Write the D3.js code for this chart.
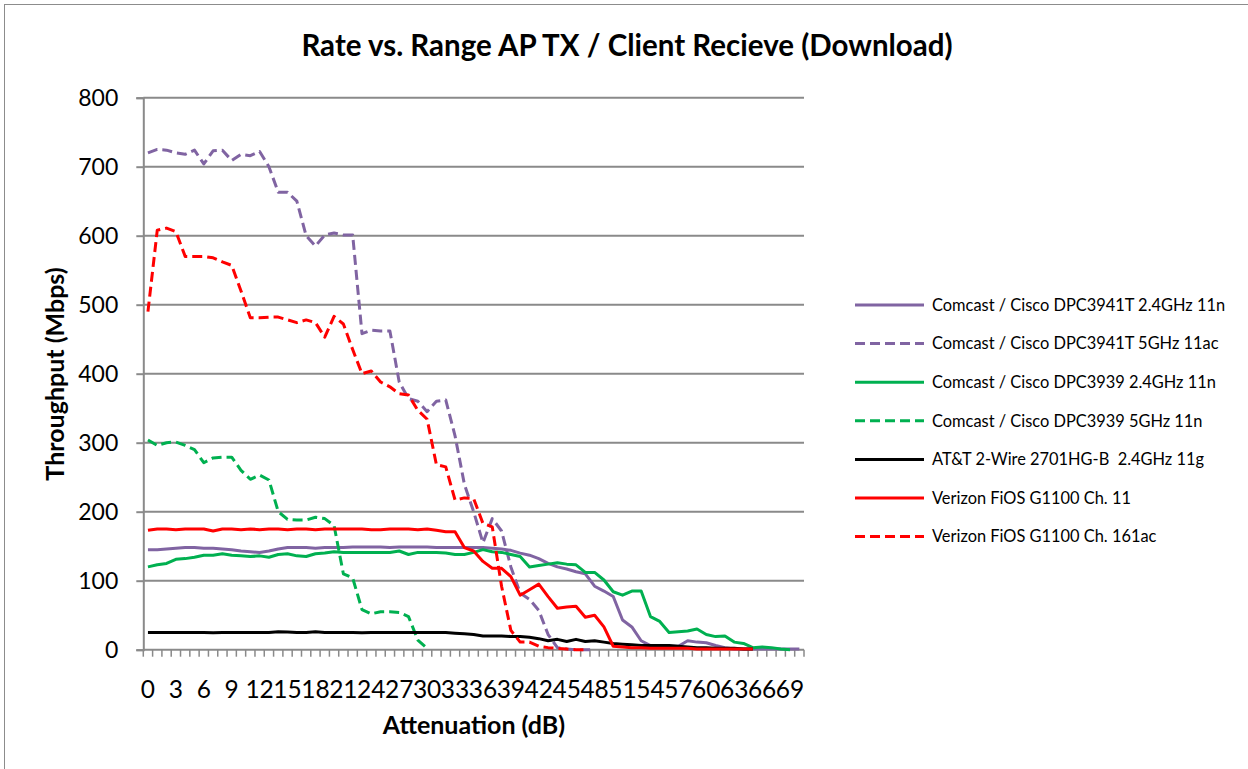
<!DOCTYPE html>
<html>
<head>
<meta charset="utf-8">
<script src="https://cdn.jsdelivr.net/npm/d3@7"></script>
<style>
  body { margin: 0; background: #fff; }
  svg { display: block; }
</style>
</head>
<body>
<svg id="chart" width="1248" height="769"></svg>
<script>
// categories: attenuation in dB, one step per point
const attenuation = d3.range(0, 71);
const xTickLabels = attenuation.filter(d => d % 3 === 0);
const yTickValues = [0, 100, 200, 300, 400, 500, 600, 700, 800];

const seriesNames = [
  "Comcast / Cisco DPC3941T 2.4GHz 11n",
  "Comcast / Cisco DPC3941T 5GHz 11ac",
  "Comcast / Cisco DPC3939 2.4GHz 11n",
  "Comcast / Cisco DPC3939 5GHz 11n",
  "AT&T 2-Wire 2701HG-B  2.4GHz 11g",
  "Verizon FiOS G1100 Ch. 11",
  "Verizon FiOS G1100 Ch. 161ac"
];

// throughput in Mbps
const dpc3941t24 = [145,145,146,147,148,148,147,147,146,145,143,142,141,143,146,148,148,148,147,148,
  148,148,149,149,149,149,148,149,149,149,149,148,148,148,148,148,148,147,146,144,
  140,137,132,125,120,117,113,110,92,85,77,43,33,13,6,5,5,5,13,11,
  10,6,3,1,1,1,1,1,1,1,1];
const dpc3941t5 = [720,725,724,720,718,724,704,723,724,709,718,716,722,700,663,663,650,600,585,601,
  604,601,601,458,463,462,462,388,364,360,345,360,362,310,240,200,155,190,172,120,
  82,73,57,22,3,1,0,0,0];
const dpc3939_24 = [120,123,125,131,132,134,137,137,139,137,136,135,136,134,138,139,136,135,139,140,
  142,141,141,141,141,141,141,143,138,141,141,141,140,138,138,141,145,142,141,138,
  135,120,122,124,126,124,123,112,112,101,84,79,85,85,48,41,25,26,27,30,
  22,19,20,11,9,3,4,3,1,0];
const dpc3939_5 = [304,296,300,301,296,290,271,278,279,279,260,247,253,246,200,189,188,188,192,190,
  180,110,104,58,52,55,55,54,48,14,2];
const att2701 = [25,25,25,25,25,25,25,24.5,25,25,25,25,25,25,26,25.5,25,25,26,25,
  25,25,25,24.5,25,25,25,25,25,25,25,25,25,24,23,22,20,20,20,19,
  19,18,16,13,15,12,15,12,13,11,9,8,7,6,6,6,6,5,4,3,
  3,2,2,2,1,1];
const fiosCh11 = [173,175,175,174,175,175,175,172,175,175,174,175,174,175,175,174,175,175,174,175,
  175,175,175,175,174,174,175,175,175,174,175,173,171,171,148,143,128,118,118,106,
  79,87,95,77,60,62,63,47,50,33,5,4,3,3,2,2,2,2,2,1,
  1,1,1,1,1,1];
const fiosCh161 = [490,608,611,606,570,570,570,568,562,557,520,481,481,482,482,478,474,478,474,453,
  483,472,435,400,404,388,381,371,369,347,334,268,265,217,220,219,183,178,92,28,
  11,11,5,3,2,1,0,0];

const seriesValues = [dpc3941t24, dpc3941t5, dpc3939_24, dpc3939_5, att2701, fiosCh11, fiosCh161];
const seriesColors = ["#8064A2", "#8064A2", "#00B050", "#00B050", "#000000", "#FF0000", "#FF0000"];
const seriesDashed = [false, true, false, true, false, false, true];

const font = "Lato, 'Open Sans', sans-serif";
const svg = d3.select("#chart");

// outer chart border (only top and left edge visible in the frame)
svg.append("rect")
  .attr("x", 4.5).attr("y", 4.5)
  .attr("width", 1300).attr("height", 800)
  .attr("fill", "none").attr("stroke", "#8c8c8c").attr("stroke-width", 1);

const plot = { left: 143.3, right: 804, top: 97.7, bottom: 649.7 };

const x = d3.scaleBand().domain(attenuation).range([plot.left, plot.right]).padding(0);
const xc = d => x(d) + x.bandwidth() / 2;
const y = d3.scaleLinear().domain([0, 800]).range([plot.bottom, plot.top]);

// horizontal grid lines
svg.append("g")
  .selectAll("line").data(yTickValues.filter(d => d > 0)).join("line")
  .attr("x1", plot.left).attr("x2", plot.right)
  .attr("y1", d => y(d)).attr("y2", d => y(d))
  .attr("stroke", "#8a8a8a").attr("stroke-width", 2);

// y axis
const yAxis = svg.append("g")
  .attr("transform", `translate(${plot.left},0)`)
  .call(d3.axisLeft(y).tickValues(yTickValues).tickSize(7).tickPadding(18));
yAxis.select(".domain").attr("stroke", "#8a8a8a").attr("stroke-width", 2);
yAxis.selectAll(".tick line").attr("stroke", "#8a8a8a").attr("stroke-width", 2);
yAxis.selectAll(".tick text")
  .attr("font-family", font).attr("font-size", 23).attr("fill", "#000");

// x axis: tick marks between categories, labels every 3 dB
const xAxisG = svg.append("g");
xAxisG.append("line")
  .attr("x1", plot.left).attr("x2", plot.right)
  .attr("y1", plot.bottom).attr("y2", plot.bottom)
  .attr("stroke", "#8a8a8a").attr("stroke-width", 2);
xAxisG.selectAll("line.tick").data(attenuation.concat([71])).join("line")
  .attr("class", "tick")
  .attr("x1", d => d < 71 ? x(d) : plot.right).attr("x2", d => d < 71 ? x(d) : plot.right)
  .attr("y1", plot.bottom).attr("y2", plot.bottom + 7)
  .attr("stroke", "#8a8a8a").attr("stroke-width", 1.5);
xAxisG.selectAll("text").data(xTickLabels).join("text")
  .attr("x", d => xc(d)).attr("y", 698)
  .attr("text-anchor", "middle")
  .attr("font-family", font).attr("font-size", 24.5)
  .text(d => d);

// series lines
const line = d3.line()
  .x((d, i) => xc(attenuation[i]))
  .y(d => y(d));

svg.append("g").selectAll("path").data(seriesValues).join("path")
  .attr("d", d => line(d))
  .attr("fill", "none")
  .attr("stroke", (d, i) => seriesColors[i])
  .attr("stroke-width", 3)
  .attr("stroke-linejoin", "round")
  .attr("stroke-dasharray", (d, i) => seriesDashed[i] ? "10,5" : null);

// titles
svg.append("text")
  .attr("x", 627).attr("y", 56)
  .attr("text-anchor", "middle")
  .attr("font-family", font).attr("font-weight", "bold").attr("font-size", 29.5)
  .text("Rate vs. Range AP TX / Client Recieve (Download)");

svg.append("text")
  .attr("transform", "translate(64,374) rotate(-90)")
  .attr("text-anchor", "middle")
  .attr("font-family", font).attr("font-weight", "bold").attr("font-size", 25)
  .text("Throughput (Mbps)");

svg.append("text")
  .attr("x", 474).attr("y", 734)
  .attr("text-anchor", "middle")
  .attr("font-family", font).attr("font-weight", "bold").attr("font-size", 25)
  .text("Attenuation (dB)");

// legend
const legend = svg.append("g").attr("transform", "translate(855,305)");
const rows = legend.selectAll("g").data(seriesNames).join("g")
  .attr("transform", (d, i) => `translate(0,${i * 38.6})`);
rows.append("line")
  .attr("x1", 0).attr("x2", 69).attr("y1", 0).attr("y2", 0)
  .attr("stroke", (d, i) => seriesColors[i]).attr("stroke-width", 3)
  .attr("stroke-dasharray", (d, i) => seriesDashed[i] ? "10,5" : null);
rows.append("text")
  .attr("x", 77).attr("y", 0).attr("dy", "0.35em")
  .attr("font-family", font).attr("font-size", 16.4)
  .style("white-space", "pre")
  .text(d => d);
</script>
</body>
</html>
